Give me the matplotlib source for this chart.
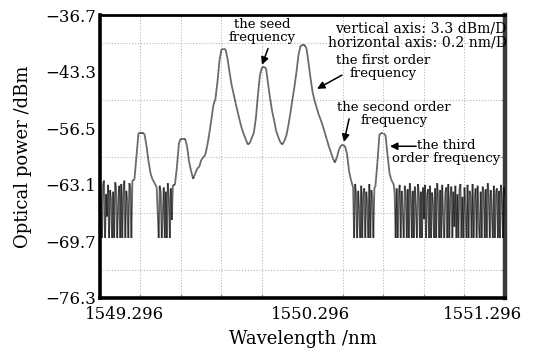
import numpy as np
import matplotlib
matplotlib.use("Agg")
import matplotlib.pyplot as plt
from matplotlib.collections import LineCollection
from matplotlib.ticker import MultipleLocator
from matplotlib.transforms import ScaledTranslation

# Optical spectrum, stored piece by piece: (start nm, stop nm, power in dBm).
# Noise-floor stretches are sampled every 0.005 nm, the lines every 0.01 nm.
noise_left = (1549.296, 1549.456, [
    -63.4, -64.6, -69.3, -63.0, -62.6, -69.3, -64.2, -66.8, -63.1, -69.3,
    -63.7, -64.9, -69.3, -63.9, -69.3, -62.8, -63.5, -69.3, -65.4, -63.2,
    -69.3, -63.0, -69.3, -64.1, -62.6, -69.3, -63.8, -65.0, -69.3, -62.9,
    -63.3, -69.3, -62.6])
third_order_blue = (1549.466, 1549.576, [
    -62.5, -59.8, -57.1, -57.0, -57.0, -57.2, -58.6, -60.4, -61.8, -62.5,
    -62.9, -63.4])
noise_mid_a = (1549.586, 1549.656, [
    -69.3, -63.2, -64.0, -69.3, -66.5, -63.4, -69.3, -63.9, -69.3, -62.9,
    -64.6, -69.3, -63.5, -67.2, -63.1])
main_lines = (1549.666, 1550.536, [
    # second order (blue side)
    -63.1, -61.0, -58.2, -57.7, -57.7, -57.7, -58.6, -60.4, -61.5, -62.4,
    -61.8, -61.2, -61.0,
    # first order (blue side)
    -60.2, -59.9, -59.6, -58.5, -57.1, -55.5, -53.8, -53.1, -51.1, -48.6,
    -47.3, -47.25, -47.3, -48.4, -50.0, -51.45, -52.5, -53.6, -54.6, -55.6,
    -56.5, -57.2, -57.8, -58.4, -58.2,
    # seed
    -57.6, -57.0, -55.3, -52.6, -50.3, -49.4, -49.35, -49.5, -51.3, -53.0,
    -54.5, -55.6, -56.8, -57.5, -58.1, -58.4,
    # first order (red side)
    -58.0, -57.4, -56.2, -54.8, -53.2, -51.7, -50.0, -48.0, -46.9, -46.8,
    -46.8, -47.2, -48.9, -50.7, -52.3, -53.3, -54.1, -54.9, -55.5, -56.2,
    -57.0, -57.8, -58.6, -59.3, -60.0, -60.5,
    # second order (red side)
    -59.9, -59.0, -58.5, -58.45, -58.6, -59.5, -61.5, -62.6])
noise_mid_b = (1550.546, 1550.656, [
    -63.4, -69.3, -63.0, -64.3, -69.3, -63.8, -66.0, -69.3, -63.2, -69.3,
    -64.1, -63.5, -69.3, -63.9, -65.2, -69.3, -63.0, -69.3, -63.7, -64.6,
    -69.3, -63.4, -63.3])
third_order_red = (1550.666, 1550.736, [
    -60.5, -57.2, -57.1, -57.1, -57.3, -59.6, -61.8, -62.6])
noise_right = (1550.746, 1551.296, [
    -63.0, -64.1, -69.3, -63.5, -69.3, -64.2, -63.1, -69.3, -63.8, -66.4,
    -69.3, -63.2, -64.0, -69.3, -63.6, -69.3, -62.9, -64.5, -69.3, -63.8,
    -69.3, -63.3, -65.7, -69.3, -63.0, -64.2, -69.3, -63.9, -69.3, -63.4,
    -67.1, -63.1, -69.3, -64.3, -63.6, -69.3, -63.2, -69.3, -64.0, -65.3,
    -69.3, -63.5, -69.3, -62.9, -64.4, -69.3, -63.7, -69.3, -63.1, -66.8,
    -69.3, -64.1, -63.4, -69.3, -63.0, -69.3, -64.6, -63.3, -69.3, -63.9,
    -68.0, -63.2, -69.3, -64.2, -69.3, -63.6, -63.0, -69.3, -64.5, -69.3,
    -63.4, -65.9, -69.3, -63.1, -69.3, -63.8, -64.3, -69.3, -63.0, -69.3,
    -64.7, -63.5, -69.3, -63.2, -67.5, -69.3, -63.9, -69.3, -63.3, -64.1,
    -69.3, -63.6, -69.3, -62.9, -64.4, -69.3, -63.7, -66.2, -69.3, -63.2,
    -69.3, -64.0, -63.5, -69.3, -63.8, -69.3, -63.1, -64.6, -69.3, -63.4,
    -64.2])

spectrum_pieces = [noise_left, third_order_blue, noise_mid_a, main_lines,
                   noise_mid_b, third_order_red, noise_right]

x_tick_values = [1549.296, 1550.296, 1551.296]
x_tick_labels = ["1549.296", "1550.296", "1551.296"]
y_tick_values = [-76.3, -69.7, -63.1, -56.5, -49.9, -43.3]
y_tick_labels = ["\u221276.3", "\u221269.7", "\u221263.1", "\u221256.5",
                 "\u221243.3", "\u221236.7"]

wavelength_nm = np.concatenate([np.linspace(a, b, len(v)) for a, b, v in spectrum_pieces])
power_dbm = np.concatenate([np.asarray(v, float) for _, _, v in spectrum_pieces])

plt.rcParams["font.family"] = ["DejaVu Serif"]

fig = plt.figure(figsize=(5.39, 3.51), dpi=100)
ax = fig.add_axes([0.1855, 0.151, 0.7514, 0.806])

# trace drawn segment by segment so the dense noise builds up darker
pts = np.column_stack([wavelength_nm, power_dbm])
segs = np.stack([pts[:-1], pts[1:]], axis=1)
trace = LineCollection(segs, colors="black", alpha=0.58, linewidths=1.3,
                       capstyle="butt", zorder=3)
ax.add_collection(trace)

ax.set_xlim(x_tick_values[0], x_tick_values[-1])
ax.set_ylim(y_tick_values[0], y_tick_values[-1])

# grid every division (0.2 nm, 3.3 dB)
ax.set_xticks(np.arange(x_tick_values[0], x_tick_values[-1] + 1e-6, 0.2), minor=True)
ax.set_yticks(np.arange(y_tick_values[0], y_tick_values[-1] + 1e-6, 3.3), minor=True)
ax.grid(which="minor", color="#b8b8b8", linestyle=(0, (1, 1.6)), lw=0.8, zorder=1)

ax.set_xticks(x_tick_values)
ax.set_xticklabels(x_tick_labels)
ax.set_yticks(y_tick_values)
ax.set_yticklabels(y_tick_labels)

ax.tick_params(axis="both", which="major", length=0, labelsize=12)
ax.tick_params(axis="x", which="major", pad=6)
ax.tick_params(axis="y", which="major", pad=3)
ax.tick_params(which="minor", direction="in", length=3, width=0.8,
               color="#888888", bottom=True, right=True, left=False, top=False)

# keep the outer wavelength labels under the frame
shifts = [25, 8, -22]
for lab, dx in zip(ax.get_xticklabels(), shifts):
    lab.set_transform(lab.get_transform() + ScaledTranslation(dx / 100, 0, fig.dpi_scale_trans))

for side, lw, col in [("left", 2.6, "black"), ("bottom", 2.6, "black"),
                      ("top", 2.0, "black"), ("right", 3.2, "#3a3a3a")]:
    ax.spines[side].set_linewidth(lw)
    ax.spines[side].set_color(col)

ax.set_xlabel("Wavelength /nm", fontsize=13, labelpad=4.5)
ax.set_ylabel("Optical power /dBm", fontsize=13, labelpad=9)

# annotations
arrow = dict(arrowstyle="-|>", color="black", lw=1.1, mutation_scale=11,
             shrinkA=0, shrinkB=0)
txt = dict(fontsize=9.5, ha="center", va="center", linespacing=1.0, zorder=5)

ax.text(1550.096, -45.1, "the seed\nfrequency", **txt)
ax.annotate("", xy=(1550.096, -49.1), xytext=(1550.126, -47.2), arrowprops=arrow)

ax.text(1550.694, -49.4, "the first order\nfrequency", **txt)
ax.annotate("", xy=(1550.368, -51.9), xytext=(1550.491, -50.3), arrowprops=arrow)

ax.text(1550.748, -54.8, "the second order\nfrequency", **txt)
ax.annotate("", xy=(1550.501, -58.1), xytext=(1550.526, -55.4), arrowprops=arrow)

ax.text(1551.005, -59.3, "the third\norder frequency", **txt)
ax.annotate("", xy=(1550.728, -58.6), xytext=(1550.857, -58.6), arrowprops=arrow)

ax.text(1.004, 0.928, "vertical axis: 3.3 dBm/D\nhorizontal axis: 0.2 nm/D",
        transform=ax.transAxes, fontsize=10.1, ha="right", va="center",
        multialignment="right", linespacing=1.0, zorder=5)

fig.savefig("out.png", dpi=100, facecolor="white")
